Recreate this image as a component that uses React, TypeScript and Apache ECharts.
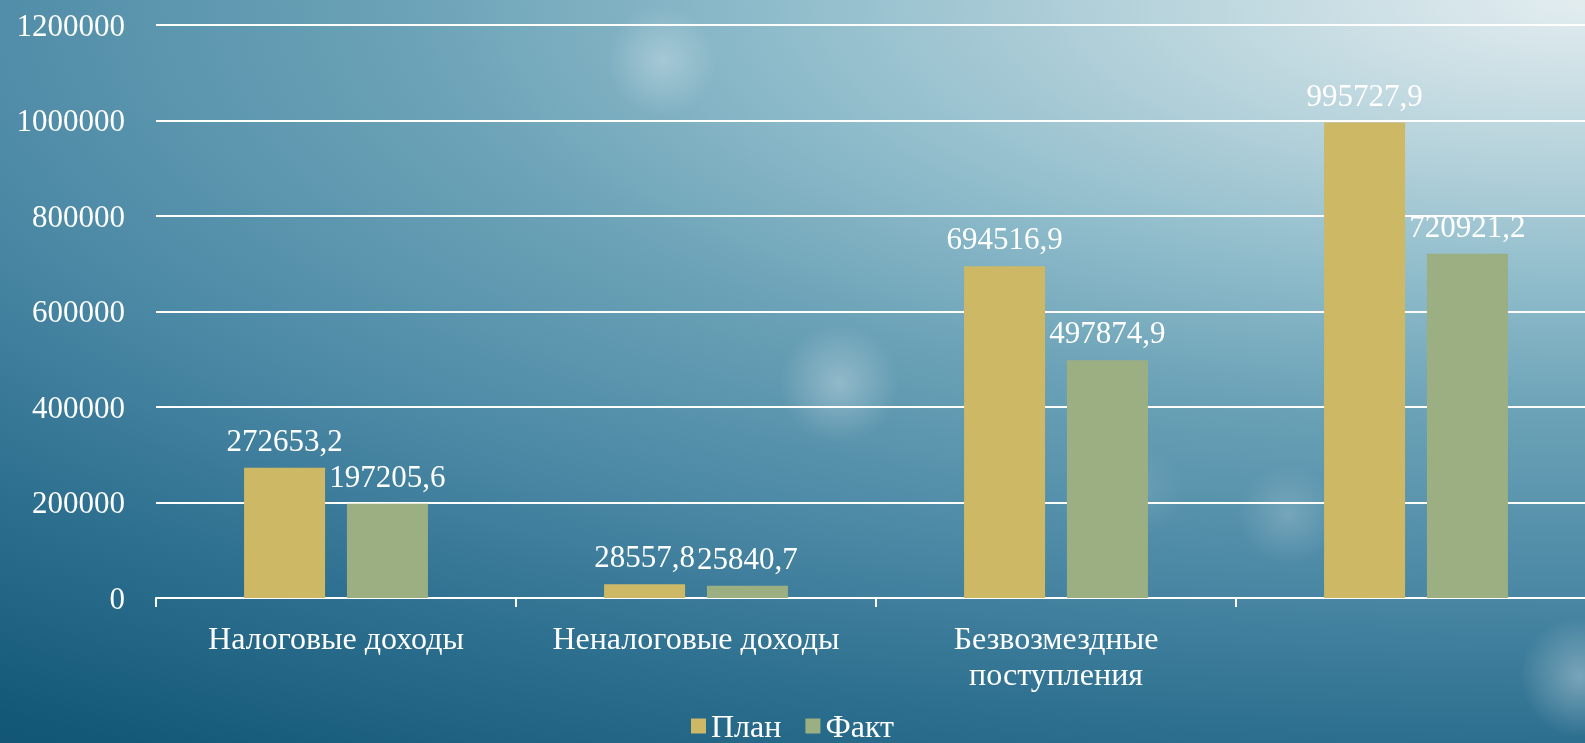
import React, { useEffect, useRef } from "react";
import * as echarts from "echarts";

const categories = ["Налоговые доходы", "Неналоговые доходы", "Безвозмездные поступления", ""];
const planValues = [272653.2, 28557.8, 694516.9, 995727.9];
const factValues = [197205.6, 25840.7, 497874.9, 720921.2];
const seriesNames = ["План", "Факт"];
const yTicks = { min: 0, max: 1200000, interval: 200000 };

const FONT = "'Liberation Serif', 'DejaVu Serif', serif";

const bg = [
  "radial-gradient(circle 55px at 662px 61px, rgba(255,255,255,0.28), rgba(255,255,255,0) 100%)",
  "radial-gradient(circle 60px at 839px 384px, rgba(255,255,255,0.30), rgba(255,255,255,0) 100%)",
  "radial-gradient(circle 50px at 1288px 515px, rgba(255,255,255,0.18), rgba(255,255,255,0) 100%)",
  "radial-gradient(circle 45px at 1140px 490px, rgba(255,255,255,0.10), rgba(255,255,255,0) 100%)",
  "radial-gradient(circle 60px at 1580px 677px, rgba(255,255,255,0.32), rgba(255,255,255,0) 100%)",
  "radial-gradient(ellipse 3000px 1050px at 100% 0%, #e3edf0 0%, #bcd6de 13%, #8fbccb 27%, #6aa1b6 40%, #4d8aa6 55%, #2e7090 70%, #145878 86%, #0f4f6f 100%)",
].join(", ");

export default function App() {
  const ref = useRef<HTMLDivElement>(null);
  useEffect(() => {
    document.body.style.margin = "0";
    const chart = echarts.init(ref.current!, undefined, { renderer: "svg" });
    const labelFmt = (p: any) => String(p.value).replace(".", ",");
    chart.setOption({
      animation: false,
      backgroundColor: "transparent",
      textStyle: { fontFamily: FONT },
      grid: { left: 156, right: -11, top: 25, bottom: 145, containLabel: false, outerBoundsMode: "none" },
      legend: {
        data: seriesNames,
        top: 705,
        left: "center",
        icon: "rect",
        itemWidth: 15,
        itemHeight: 15,
        itemGap: 24,
        textStyle: { color: "#ffffff", fontSize: 32, fontFamily: FONT },
      },
      xAxis: {
        type: "category",
        data: categories,
        axisLine: { show: true, lineStyle: { color: "#ffffff", width: 2 } },
        axisTick: { show: true, length: 9, lineStyle: { color: "#ffffff", width: 2 } },
        axisLabel: {
          color: "#ffffff",
          fontSize: 32,
          fontFamily: FONT,
          margin: 22,
          lineHeight: 36,
          interval: 0,
          formatter: (v: string) => (v.length > 20 ? v.replace(" ", "\n") : v),
        },
      },
      yAxis: {
        type: "value",
        min: yTicks.min,
        max: yTicks.max,
        interval: yTicks.interval,
        axisLine: { show: false },
        axisTick: { show: false },
        axisLabel: { color: "#ffffff", fontSize: 31, fontFamily: FONT, margin: 31, formatter: (v: number) => String(v) },
        splitLine: { lineStyle: { color: "#ffffff", width: 2 } },
      },
      series: [
        {
          name: seriesNames[0],
          type: "bar",
          data: planValues,
          barWidth: "22.5%",
          barGap: "27%",
          itemStyle: { color: "#CDB866" },
          label: { show: true, position: "top", distance: 12, color: "#ffffff", fontSize: 31, fontFamily: FONT, formatter: labelFmt },
        },
        {
          name: seriesNames[1],
          type: "bar",
          data: factValues,
          barWidth: "22.5%",
          barGap: "27%",
          itemStyle: { color: "#9CAF83" },
          label: { show: true, position: "top", distance: 12, color: "#ffffff", fontSize: 31, fontFamily: FONT, formatter: labelFmt },
        },
      ],
    });
    return () => chart.dispose();
  }, []);
  return (
    <div
      style={{ position: "fixed", left: 0, top: 0, width: 1585, height: 743, background: bg, overflow: "hidden" }}
    >
      <div ref={ref} style={{ width: 1585, height: 743 }} />
    </div>
  );
}
